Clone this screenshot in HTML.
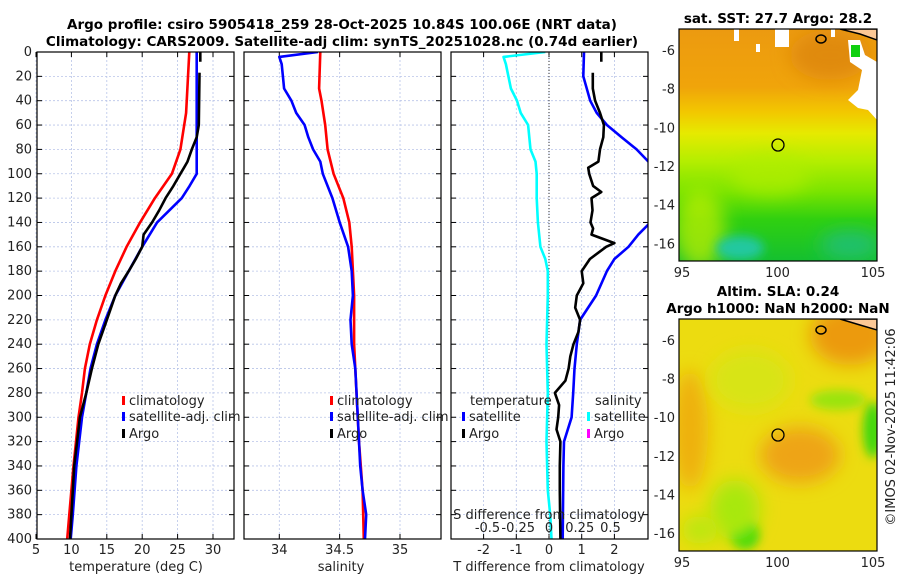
<!DOCTYPE html>
<html><head><meta charset="utf-8">
<style>
body{margin:0;background:#fff;width:900px;height:580px;overflow:hidden}
svg text{font-family:"DejaVu Sans","Liberation Sans",sans-serif;fill:#222}
.t{font-weight:bold;font-size:13.5px;fill:#000}
.tk{font-size:13px}
.grid{stroke:#b8c4e8;stroke-width:0.8;stroke-dasharray:2,2}
</style></head><body>
<svg id="fig" width="900" height="580" viewBox="0 0 900 580" xmlns="http://www.w3.org/2000/svg">
<defs>
<clipPath id="c1"><rect x="37" y="52" width="197" height="487"/></clipPath>
<clipPath id="c2"><rect x="244" y="52" width="197" height="487"/></clipPath>
<clipPath id="c3"><rect x="451" y="52" width="197" height="487"/></clipPath>
<clipPath id="m1"><rect x="679" y="29" width="198" height="232"/></clipPath>
<clipPath id="m2"><rect x="679" y="319" width="198" height="232"/></clipPath>
<filter id="bl" x="-50%" y="-50%" width="200%" height="200%"><feGaussianBlur stdDeviation="9"/></filter>
<filter id="bl2" x="-50%" y="-50%" width="200%" height="200%"><feGaussianBlur stdDeviation="5"/></filter>
<linearGradient id="sst" x1="0" y1="0" x2="0" y2="1">
<stop offset="0" stop-color="#ec9a10"/><stop offset="0.25" stop-color="#f0a40a"/>
<stop offset="0.36" stop-color="#f2c800"/><stop offset="0.45" stop-color="#e6ea00"/>
<stop offset="0.57" stop-color="#b4ee00"/><stop offset="0.7" stop-color="#7ae400"/>
<stop offset="0.82" stop-color="#30d010"/><stop offset="1" stop-color="#14c030"/>
</linearGradient>
</defs>
<text class="t" x="342" y="29" text-anchor="middle">Argo profile: csiro 5905418_259 28-Oct-2025 10.84S 100.06E (NRT data)</text>
<text class="t" x="342" y="46" text-anchor="middle">Climatology: CARS2009. Satellite-adj clim: synTS_20251028.nc (0.74d earlier)</text>
<g id="axes"></g>
<g id="maps">
 <text class="t" x="778" y="23" text-anchor="middle">sat. SST: 27.7 Argo: 28.2</text>
 <g clip-path="url(#m1)">
  <rect x="679" y="29" width="198" height="232" fill="url(#sst)"/>
  <ellipse cx="830" cy="55" rx="40" ry="25" fill="#e08a10" filter="url(#bl)"/>
  <ellipse cx="700" cy="230" rx="25" ry="40" fill="#c8f000" filter="url(#bl)" opacity="0.7"/>
  <ellipse cx="740" cy="248" rx="24" ry="12" fill="#20c8a0" filter="url(#bl2)"/>
  <ellipse cx="850" cy="245" rx="30" ry="14" fill="#20c070" filter="url(#bl)"/>
  <ellipse cx="770" cy="175" rx="40" ry="20" fill="#b0ee00" filter="url(#bl)" opacity="0.7"/>
  <rect x="734" y="29" width="5" height="12" fill="#fff"/><rect x="775" y="29" width="14" height="18" fill="#fff"/>
  <rect x="756" y="44" width="4" height="8" fill="#fff"/><rect x="831" y="29" width="4" height="8" fill="#fff"/>
  <polygon points="848,40 860,40 865,55 877,62 877,120 868,110 858,108 848,100 858,90 862,70 850,62" fill="#fff"/>
  <rect x="851" y="45" width="9" height="12" fill="#10d010"/>
  <polygon points="840,29 877,29 877,40 860,34" fill="#fcc896" stroke="#000" stroke-width="1.5"/>
  <ellipse cx="821" cy="39" rx="5" ry="4" fill="none" stroke="#000" stroke-width="1.5"/>
  <circle cx="778" cy="145" r="6" fill="none" stroke="#000" stroke-width="1.3"/>
 </g>
 <rect x="679" y="29" width="198" height="232" fill="none" stroke="#000" stroke-width="1.2"/>
 <text class="t" x="778" y="296" text-anchor="middle">Altim. SLA: 0.24</text>
 <text class="t" x="778" y="313" text-anchor="middle">Argo h1000: NaN h2000: NaN</text>
 <g clip-path="url(#m2)">
  <rect x="679" y="319" width="198" height="232" fill="#ecdc10"/>
  <ellipse cx="850" cy="335" rx="40" ry="30" fill="#ec9a10" filter="url(#bl)"/>
  <ellipse cx="800" cy="455" rx="40" ry="28" fill="#eea414" filter="url(#bl)"/>
  <ellipse cx="690" cy="430" rx="18" ry="60" fill="#eeb010" filter="url(#bl)"/>
  <ellipse cx="750" cy="380" rx="40" ry="30" fill="#d8e418" filter="url(#bl)"/>
  <ellipse cx="745" cy="535" rx="14" ry="14" fill="#30d810" filter="url(#bl2)"/>
  <ellipse cx="735" cy="510" rx="25" ry="30" fill="#a8e810" filter="url(#bl)"/>
  <ellipse cx="700" cy="530" rx="18" ry="14" fill="#b8e810" filter="url(#bl)"/>
  <ellipse cx="838" cy="400" rx="28" ry="10" fill="#9ae410" filter="url(#bl2)"/>
  <ellipse cx="873" cy="430" rx="10" ry="28" fill="#40d810" filter="url(#bl2)"/>
  <polygon points="840,319 877,319 877,330 860,325" fill="#fcc896" stroke="#000" stroke-width="1.5"/>
  <ellipse cx="821" cy="330" rx="5" ry="4" fill="none" stroke="#000" stroke-width="1.5"/>
  <circle cx="778" cy="435" r="6" fill="none" stroke="#000" stroke-width="1.3"/>
 </g>
 <rect x="679" y="319" width="198" height="232" fill="none" stroke="#000" stroke-width="1.2"/>
 <text class="tk" x="0" y="0" transform="translate(895,427) rotate(-90)" text-anchor="middle" font-size="13">©IMOS 02-Nov-2025 11:42:06</text>
</g>
</svg>
<script>
// ---- data ----
const tempDepths = [0,50,80,100,120,140,160,180,200,220,240,260,280,300,340,380,400];
const tempClim = [26.65,26.2,25.4,24.2,21.8,19.7,17.8,16.2,14.8,13.6,12.6,11.9,11.5,11.0,10.3,9.7,9.4];
const tempSatDepths = [0,100,110,120,140,160,180,200,220,240,260,280,300,340,380,400];
const tempSat = [27.7,27.7,26.7,25.6,22.1,20.0,18.1,16.2,14.8,13.6,12.7,12.1,11.5,10.7,10.2,9.9];
const argoDepths = [0,8,null,17,60,70,80,90,95,100,110,120,130,140,150,160,170,180,190,200,220,240,260,280,300,320,340,380,400];
const argoTemp = [28.2,28.2,null,28.1,28.0,27.7,27.0,26.4,25.9,25.4,24.4,23.3,22.4,21.4,20.2,20.0,19.1,18.1,17.0,16.2,15.0,13.8,12.9,12.1,11.2,10.8,10.4,10.0,9.8];
const salDepths = [0,30,40,60,80,100,120,140,160,200,240,280,320,360,400];
const salClim = [34.34,34.33,34.35,34.38,34.40,34.45,34.53,34.58,34.60,34.62,34.62,34.64,34.66,34.69,34.70];
const salSatDepths = [0,4,10,20,30,40,50,60,70,80,90,100,120,140,160,180,200,220,240,260,300,340,360,380,400];
const salSat = [34.32,34.00,34.02,34.03,34.04,34.10,34.14,34.21,34.24,34.28,34.34,34.36,34.44,34.50,34.57,34.60,34.61,34.59,34.60,34.63,34.65,34.67,34.69,34.72,34.71];
const sDiffDepths = [0,4,10,20,30,40,50,60,70,80,90,100,120,140,160,170,180,200,240,280,320,360,380,400];
const sDiffSat = [-0.03,-0.37,-0.35,-0.33,-0.31,-0.26,-0.23,-0.17,-0.16,-0.15,-0.11,-0.10,-0.10,-0.09,-0.07,-0.03,-0.01,-0.01,-0.02,-0.01,-0.02,-0.01,0.01,0.02];
const tDiffSatDepths = [0,20,40,50,60,70,80,90,100,120,140,150,160,170,180,200,220,240,260,280,300,320,340,400];
const tDiffSat = [1.07,1.05,1.26,1.46,1.77,2.22,2.68,3.04,3.6,4.1,3.1,2.73,2.43,2.0,1.77,1.44,0.95,0.85,0.78,0.74,0.69,0.46,0.44,0.42];
const tDiffArgoDepths = [0,8,null,17,30,40,50,60,70,80,90,95,100,110,115,120,130,140,145,150,157,160,170,180,190,200,210,220,230,240,250,260,270,280,290,300,310,320,340,360,400];
const tDiffArgo = [1.6,1.6,null,1.34,1.34,1.41,1.56,1.68,1.66,1.56,1.51,1.20,1.23,1.35,1.60,1.30,1.33,1.27,1.35,1.30,2.0,1.75,1.25,1.0,1.05,0.85,0.80,0.95,0.90,0.75,0.65,0.60,0.50,0.18,0.31,0.28,0.23,0.35,0.33,0.33,0.35];
const depthTicks = [0,20,40,60,80,100,120,140,160,180,200,220,240,260,280,300,320,340,360,380,400];
const tempTicks = [5,10,15,20,25,30];
const salTicks = [34,34.5,35];
const tDiffTicks = [-2,-1,0,1,2];
const sDiffTicks = [-0.5,-0.25,0,0.25,0.5];
const sDiffTickLabels = ['-0.5','-0.25','0','0.25','0.5'];

// ---- scales ----
const Y0=52, Y1=539;
const yD = d => Y0 + d*(Y1-Y0)/400;
const xT = t => 36 + (t-5)*7.08;
const xS = s => 279.3 + (s-34)*120.7;
const xTd = t => 549 + t*32.7;
const xSd = s => 549 + s*123;
const NS='http://www.w3.org/2000/svg';
const root=document.getElementById('axes');
function el(tag,attrs,parent){const e=document.createElementNS(NS,tag);for(const k in attrs)e.setAttribute(k,attrs[k]);(parent||root).appendChild(e);return e;}
function pathD(ds,vs,fx){let d='',pen=false;for(let i=0;i<ds.length;i++){if(ds[i]===null||vs[i]===null){pen=false;continue;}d+=(pen?'L':'M')+fx(vs[i]).toFixed(1)+','+yD(ds[i]).toFixed(1);pen=true;}return d;}

const panels=[{x0:37,x1:234,clip:'c1',name:'temperature'},{x0:244,x1:441,clip:'c2',name:'salinity'},{x0:451,x1:648,clip:'c3',name:'difference'}];
panels.forEach((p,pi)=>{
  const g=el('g',{});
  
  
  p.g=g;
  depthTicks.forEach(d=>{
    el('line',{x1:p.x0,x2:p.x1,y1:yD(d),y2:yD(d),class:'grid'},g);
    el('line',{x1:p.x0,x2:p.x0+5,y1:yD(d),y2:yD(d),stroke:'#000'},g);
    el('line',{x1:p.x1-5,x2:p.x1,y1:yD(d),y2:yD(d),stroke:'#000'},g);
  });
});
depthTicks.forEach(d=>{const t=el('text',{x:32,y:yD(d)+4,'text-anchor':'end',class:'tk'});t.textContent=d;

});
function xticks(p,ticks,fx,labels,ly){ticks.forEach((v,i)=>{const x=fx(v);
 el('line',{x1:x,x2:x,y1:Y0,y2:Y1,class:'grid'},p.g);
 el('line',{x1:x,x2:x,y1:Y1-5,y2:Y1,stroke:'#000'},p.g);
 el('line',{x1:x,x2:x,y1:Y0,y2:Y0+5,stroke:'#000'},p.g);
 const t=el('text',{x:x,y:ly,'text-anchor':'middle',class:'tk'});t.textContent=labels?labels[i]:v;
 
 });}
xticks(panels[0],tempTicks,xT,null,554);
xticks(panels[1],salTicks,xS,null,554);
xticks(panels[2],tDiffTicks,xTd,null,554);
sDiffTicks.forEach((v,i)=>{const t=el('text',{x:xSd(v),y:532,'text-anchor':'middle',class:'tk'});t.textContent=sDiffTickLabels[i];
 
 });
el('line',{x1:549,x2:549,y1:Y0,y2:Y1,stroke:'#333','stroke-dasharray':'1,2'},panels[2].g);

function series(p,ds,vs,fx,color,name){const e=el('path',{d:pathD(ds,vs,fx),fill:'none',stroke:color,'stroke-width':2.6,'stroke-linejoin':'round','clip-path':'url(#'+p.clip+')'},p.g);
 
 }
series(panels[0],tempDepths,tempClim,xT,'#ff0000','temp-climatology-line');
series(panels[0],tempSatDepths,tempSat,xT,'#0000ff','temp-satellite-line');
series(panels[0],argoDepths,argoTemp,xT,'#000','temp-argo-line');
series(panels[1],salDepths,salClim,xS,'#ff0000','sal-climatology-line');
series(panels[1],salSatDepths,salSat,xS,'#0000ff','sal-satellite-line');
series(panels[2],sDiffDepths,sDiffSat,xSd,'#00ffff','s-diff-satellite-line');
series(panels[2],tDiffSatDepths,tDiffSat,xTd,'#0000ff','t-diff-satellite-line');
series(panels[2],tDiffArgoDepths,tDiffArgo,xTd,'#000','t-diff-argo-line');

panels.forEach(p=>{el('rect',{x:p.x0,y:Y0,width:p.x1-p.x0,height:Y1-Y0,fill:'none',stroke:'#000','stroke-width':1.2},p.g);});

function txt(x,y,s,name,anchor){const t=el('text',{x:x,y:y,class:'tk','text-anchor':anchor||'start'});t.textContent=s;
 
 return t;}
txt(136,571,'temperature (deg C)','temp-axis-title','middle');
txt(341,571,'salinity','salinity-axis-title','middle');
txt(549,571,'T difference from climatology','t-diff-axis-title','middle');
txt(549,519,'S difference from climatology','s-diff-axis-title','middle');
function leg(x,y,color,label,name){el('rect',{x:x,y:y-9,width:3,height:9,fill:color});txt(x+7,y,label,name);}
leg(122,405,'#ff0000','climatology','legend-climatology');
leg(122,421,'#0000ff','satellite-adj. clim','legend-satellite');
leg(122,438,'#000','Argo','legend-argo');
leg(330,405,'#ff0000','climatology','legend-sal-climatology');
leg(330,421,'#0000ff','satellite-adj. clim','legend-sal-satellite');
leg(330,438,'#000','Argo','legend-sal-argo');
txt(470,405,'temperature','legend-temperature-header');
leg(462,421,'#0000ff','satellite','legend-td-satellite');
leg(462,438,'#000','Argo','legend-td-argo');
txt(595,405,'salinity','legend-salinity-header');
leg(587,421,'#00ffff','satellite','legend-sd-satellite');
leg(587,438,'#ff00ff','Argo','legend-sd-argo');

const lonTicks=[95,100,105];
const latTicks=[-6,-8,-10,-12,-14,-16];
const xLon=l=>682+(l-95)*19.1;
[[29,261,51,244.3],[319,551,341,534]].forEach((m,mi)=>{
 const yLat=la=>m[2]+(-6-la)*(m[3]-m[2])/10;
 latTicks.forEach(la=>{el('line',{x1:679,x2:683,y1:yLat(la),y2:yLat(la),stroke:'#000'});el('line',{x1:873,x2:877,y1:yLat(la),y2:yLat(la),stroke:'#000'});
  txt(675,yLat(la)+4,la,'lat-tick-label','end');});
 lonTicks.forEach(lo=>{el('line',{x1:xLon(lo),x2:xLon(lo),y1:m[1]-4,y2:m[1],stroke:'#000'});el('line',{x1:xLon(lo),x2:xLon(lo),y1:m[0],y2:m[0]+4,stroke:'#000'});
  txt(xLon(lo),m[1]+16,lo,'lon-tick-label','middle');});
});
</script>
</body></html>
